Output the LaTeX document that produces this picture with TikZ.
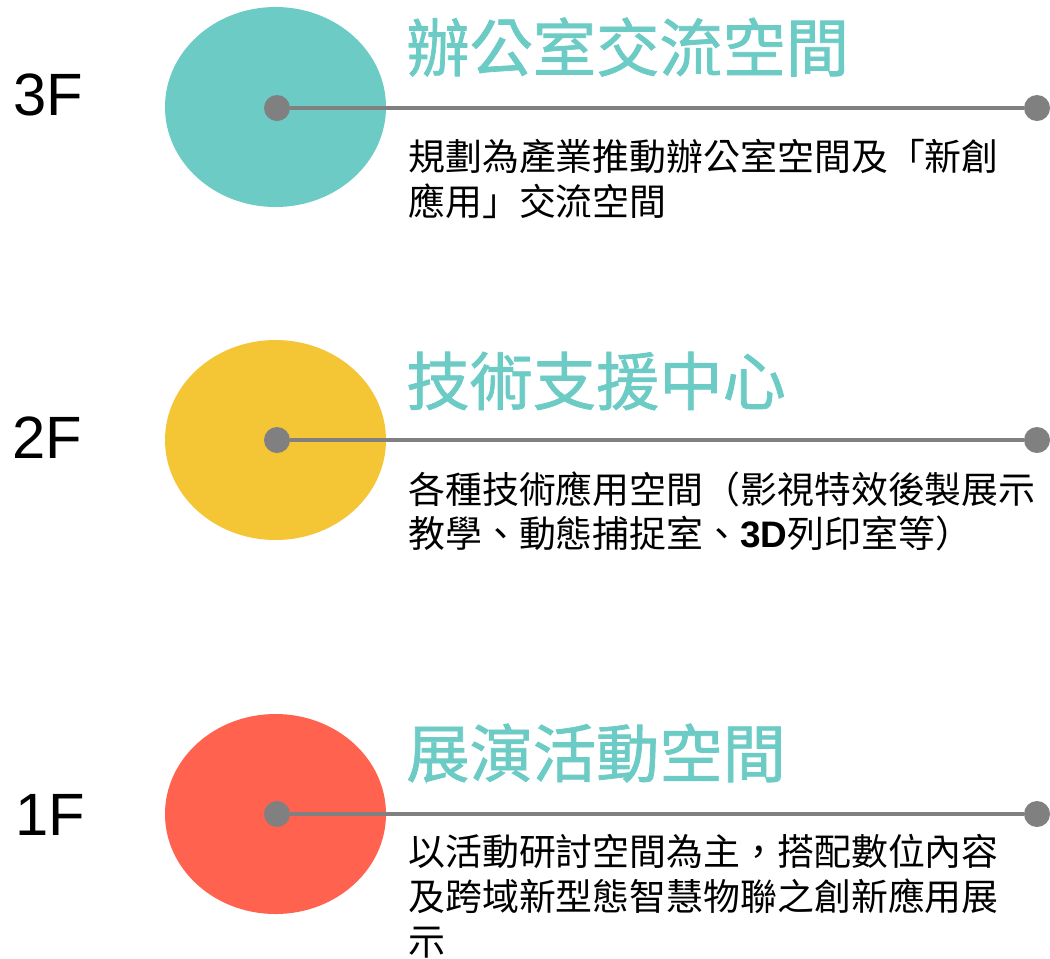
\documentclass[tikz,border=0pt]{standalone}
\usepackage{fontspec}
\setmainfont{Liberation Sans}
\newfontfamily\cjk{Noto Sans CJK TC}
\newfontfamily\cjkhead[FakeBold=1.2]{Noto Sans CJK TC}
\usepackage{tikz}

\definecolor{floorteal}{HTML}{6CCBC4}
\definecolor{flooryellow}{HTML}{F4C535}
\definecolor{floorred}{HTML}{FF624E}
\definecolor{linegray}{HTML}{808080}

\begin{document}
\begin{tikzpicture}[x=0.02cm,y=-0.02cm,
    floor/.style={anchor=west,inner sep=0,font=\fontsize{34}{40}\selectfont},
    title/.style={anchor=west,inner sep=0,text=floorteal,font=\cjkhead\fontsize{36}{40}\selectfont},
    body/.style={anchor=north west,inner sep=0,align=left,font=\cjk\fontsize{21}{25.5}\selectfont},
    dot/.style={circle,fill=linegray,inner sep=0,minimum size=0.52cm},
    link/.style={draw=linegray,line width=2.3pt}]
				\useasboundingbox (0,0) rectangle (1050,958);
				% 3F
				\fill[floorteal] (275.5,107) ellipse (110.5 and 100);
				\node[floor] (f3) at (13,95) {3F};
				\node[dot] (c3) at (277,108) {};
				\node[dot] (e3) at (1037,108) {};
				\draw[link] (c3) -- (e3);
				\node[title] (t3) at (406,47) {辦公室交流空間};
				\node[body] (b3) at (408,139) {規劃為產業推動辦公室空間及「新創\\應用」交流空間};
				% 2F
				\fill[flooryellow] (275.5,440) ellipse (110.5 and 100);
				\node[floor] (f2) at (12,438) {2F};
				\node[dot] (c2) at (277,440) {};
				\node[dot] (e2) at (1037,440) {};
				\draw[link] (c2) -- (e2);
				\node[title] (t2) at (406,381) {技術支援中心};
				\node[body] (b2) at (408,471) {各種技術應用空間（影視特效後製展示\\教學、動態捕捉室、{\bfseries\rmfamily 3D}列印室等）};
				% 1F
				\fill[floorred] (275.5,814) ellipse (110.5 and 100);
				\node[floor] (f1) at (15,815) {1F};
				\node[dot] (c1) at (277,814) {};
				\node[dot] (e1) at (1037,814) {};
				\draw[link] (c1) -- (e1);
				\node[title] (t1) at (406,753) {展演活動空間};
				\node[body] (b1) at (408,834) {以活動研討空間為主，搭配數位內容\\及跨域新型態智慧物聯之創新應用展\\示};
			\end{tikzpicture}
\end{document}
